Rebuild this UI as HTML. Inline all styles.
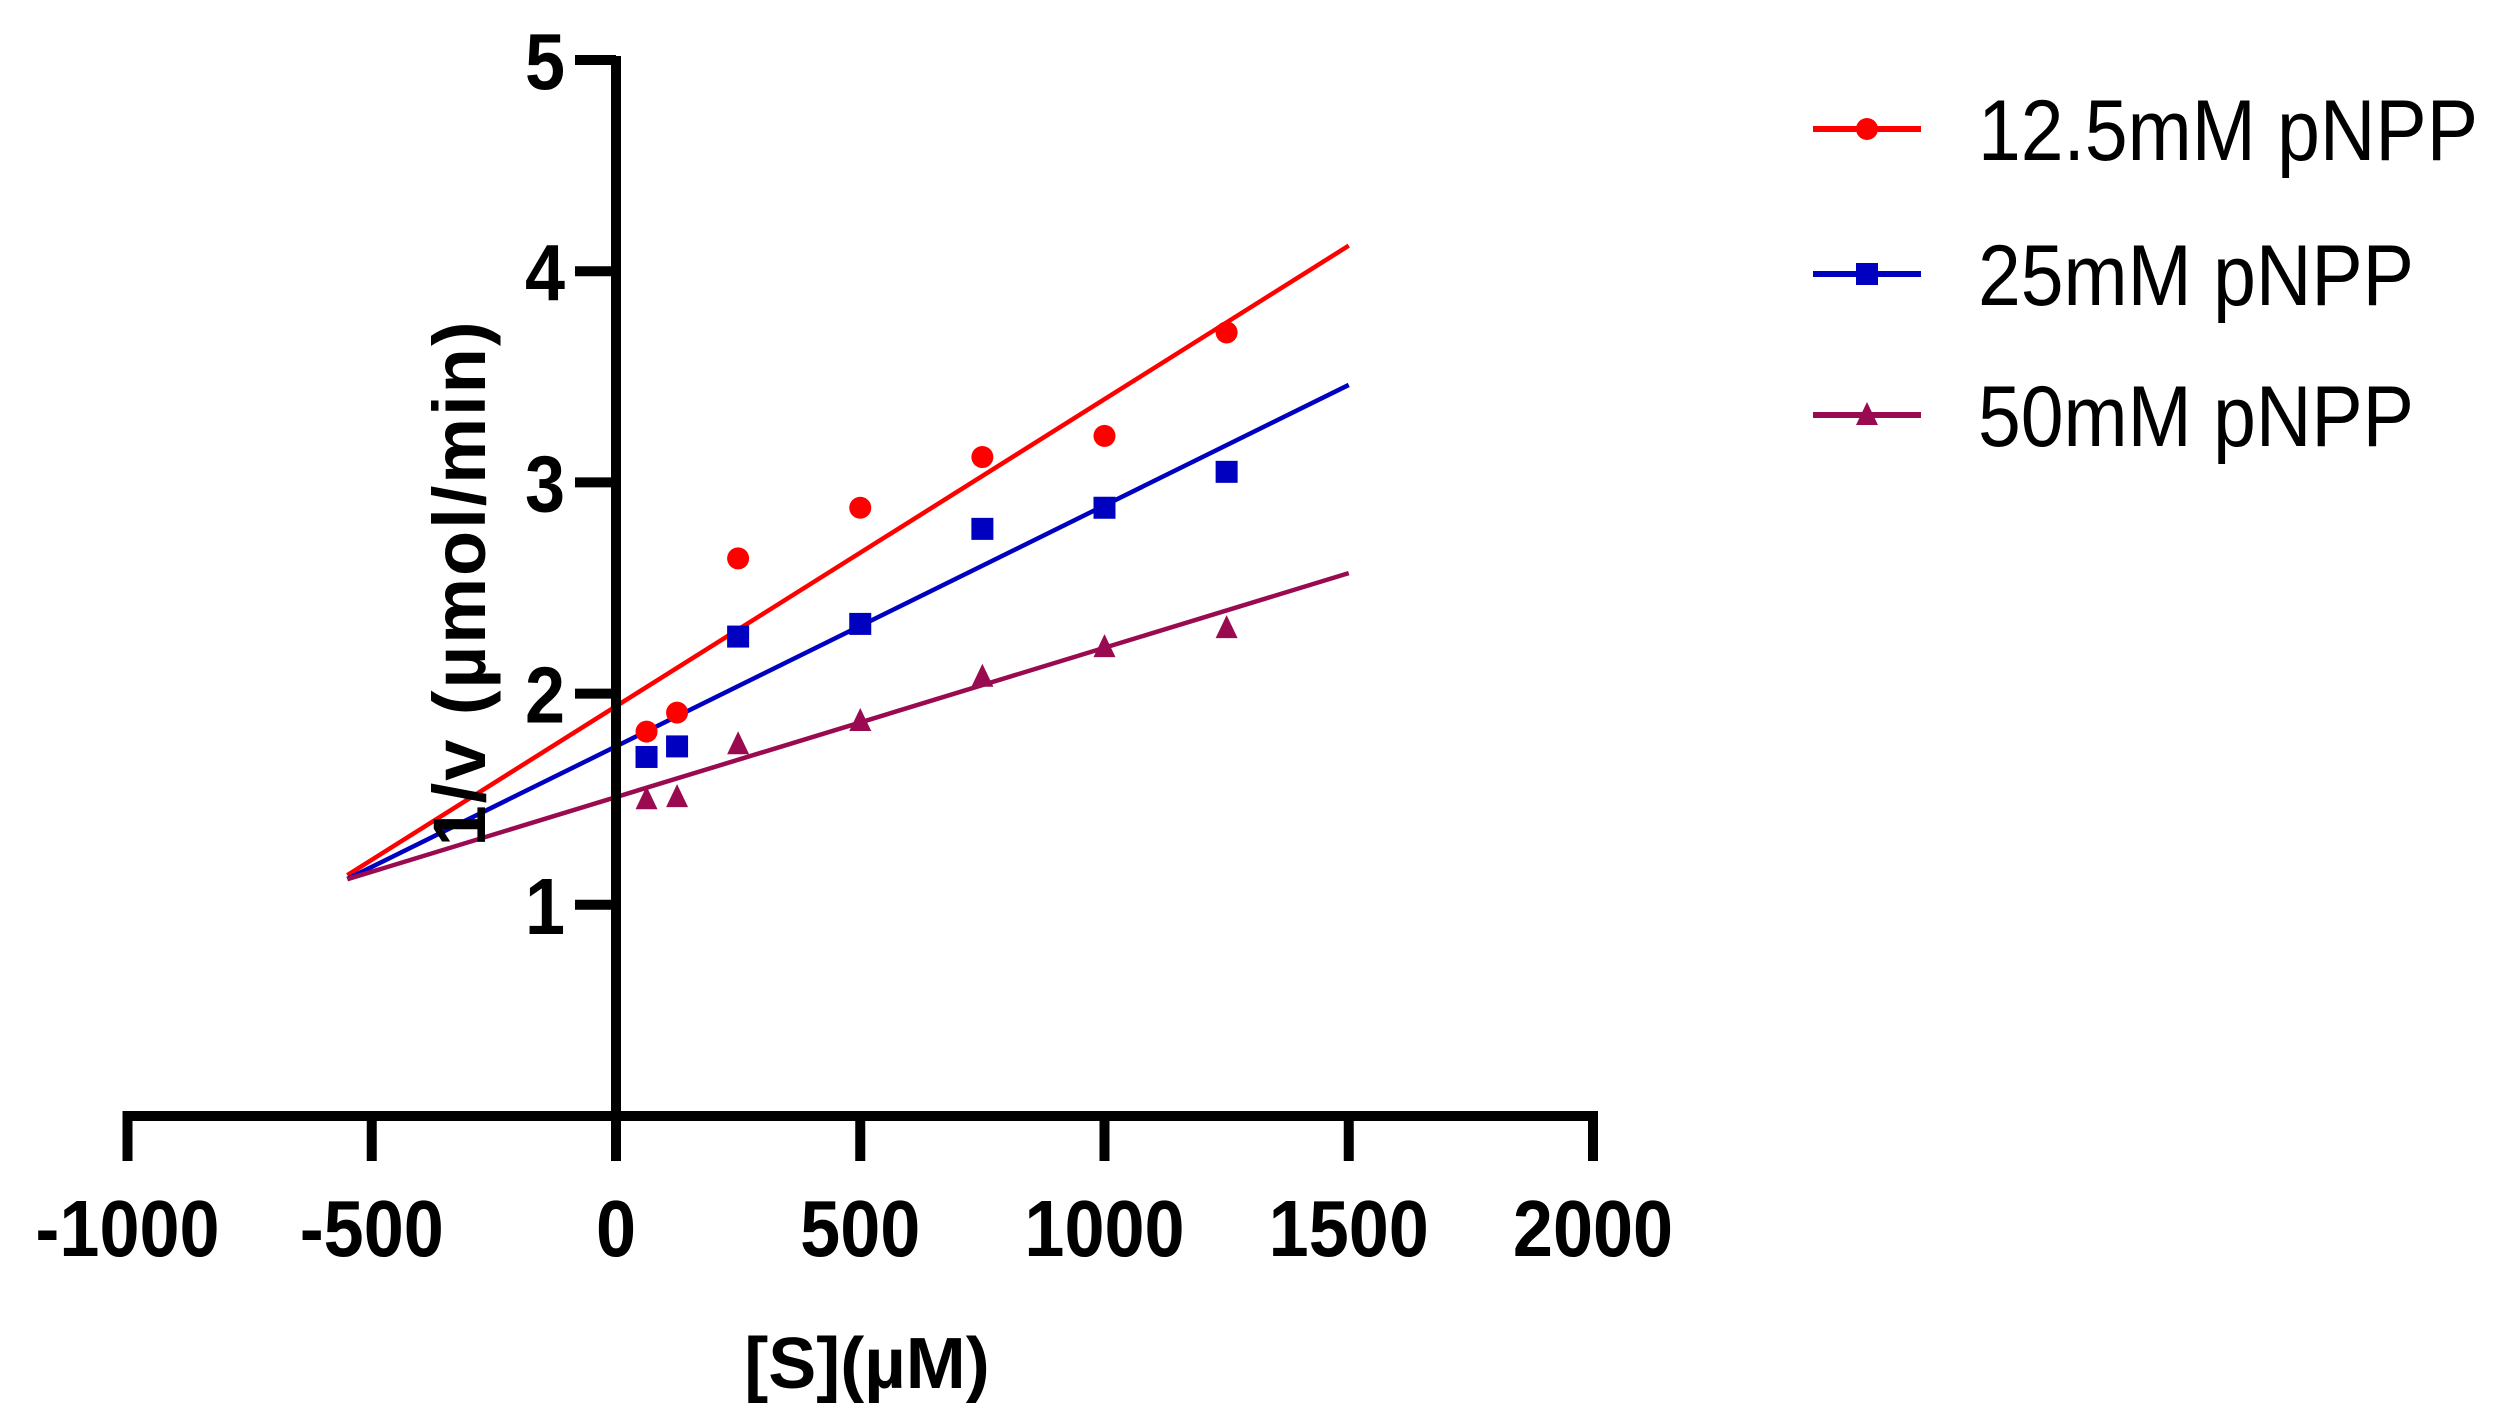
<!DOCTYPE html>
<html><head><meta charset="utf-8"><style>
html,body{margin:0;padding:0;background:#fff;}
svg{display:block;font-family:"Liberation Sans",Arial,sans-serif;}
</style></head><body>
<svg id="chart" width="2510" height="1419" viewBox="0 0 2510 1419">
<g id="plot"></g>
<g id="axes"></g>
<text id="ytitle" transform="translate(485,583) rotate(-90)" text-anchor="middle" font-size="74" font-weight="bold" letter-spacing="2">1/v (µmol/min)</text>
<text x="867" y="1388" text-anchor="middle" font-size="72" font-weight="bold">[S](µM)</text>
<g id="legend"></g>
</svg>
<script>
const xValues = [62.5, 125, 250, 500, 750, 1000, 1250];
const seriesNames = ["12.5mM pNPP", "25mM pNPP", "50mM pNPP"];
const red = [1.82, 1.91, 2.64, 2.88, 3.12, 3.22, 3.71];
const blue = [1.70, 1.75, 2.27, 2.33, 2.78, 2.88, 3.05];
const purple = [1.50, 1.51, 1.76, 1.87, 2.08, 2.22, 2.31];
const slopes = [0.001454, 0.001141, 0.000707];
const intercepts = [1.94, 1.75, 1.51];
const fitRange = [-550, 1500];
const xTicks = [-1000, -500, 0, 500, 1000, 1500, 2000];
const yTicks = [1, 2, 3, 4, 5];

const NS = "http://www.w3.org/2000/svg";
const X0 = 616, XU = 0.4885, Y0 = 1116, YU = 211.2;
const sx = v => X0 + v * XU;
const sy = v => Y0 - v * YU;
const colors = ["#ff0000", "#0000c0", "#9a0a50"];
const markers = ["circle", "square", "triangle"];
const allSeries = [red, blue, purple];

function mk(tag, attrs, parent) {
  const e = document.createElementNS(NS, tag);
  for (const k in attrs) e.setAttribute(k, attrs[k]);
  parent.appendChild(e);
  return e;
}
function marker(type, cx, cy, color, parent) {
  let e;
  if (type === "circle") e = mk("circle", {cx: cx, cy: cy, r: 11, fill: color}, parent);
  else if (type === "square") e = mk("rect", {x: cx - 11, y: cy - 11, width: 22, height: 22, fill: color}, parent);
  else e = mk("polygon", {points: `${cx},${cy - 13} ${cx - 11},${cy + 10} ${cx + 11},${cy + 10}`, fill: color}, parent);
  return e;
}
function squeeze(t, f) {
  const w = t.getComputedTextLength();
  t.setAttribute("textLength", w * f);
  t.setAttribute("lengthAdjust", "spacingAndGlyphs");
}

const axes = document.getElementById("axes");
const plot = document.getElementById("plot");
const legend = document.getElementById("legend");

const ya = mk("line", {x1: X0, y1: sy(5) - 4, x2: X0, y2: Y0 + 4, stroke: "#000", "stroke-width": 10}, axes);


const xa = mk("line", {x1: sx(-1000) - 5, y1: Y0, x2: sx(2000) + 5, y2: Y0, stroke: "#000", "stroke-width": 10}, axes);


xTicks.forEach(t => {
  const l = mk("line", {x1: sx(t), y1: Y0, x2: sx(t), y2: Y0 + 45, stroke: "#000", "stroke-width": 10}, axes);
  
  
  const tx = mk("text", {x: sx(t), y: 1256, "text-anchor": "middle", "font-size": 80, "font-weight": "bold"}, axes);
  tx.textContent = t;
  
  
  squeeze(tx, 0.9);
});
yTicks.forEach(t => {
  const l = mk("line", {x1: X0 - 41, y1: sy(t), x2: X0, y2: sy(t), stroke: "#000", "stroke-width": 10}, axes);
  
  
  const tx = mk("text", {x: 565, y: sy(t) + 29, "text-anchor": "end", "font-size": 80, "font-weight": "bold"}, axes);
  tx.textContent = t;
  
  
  squeeze(tx, 0.9);
});

slopes.forEach((m, i) => {
  const b = intercepts[i];
  const l = mk("line", {x1: sx(fitRange[0]), y1: sy(b + m * fitRange[0]), x2: sx(fitRange[1]), y2: sy(b + m * fitRange[1]), stroke: colors[i], "stroke-width": 4.5}, plot);
  
  
});
allSeries.forEach((s, i) => {
  s.forEach((v, j) => {
    const e = marker(markers[i], sx(xValues[j]), sy(v), colors[i], plot);
    
    
  });
});

const legY = [129, 274, 415];
const legW = [500, 436, 436];
seriesNames.forEach((n, i) => {
  const g = mk("g", {}, legend);
  
  
  mk("line", {x1: 1813, y1: legY[i], x2: 1921, y2: legY[i], stroke: colors[i], "stroke-width": 6}, g);
  marker(markers[i], 1867, legY[i], colors[i], g);
  const t = mk("text", {x: 1978, y: legY[i] + 31, "font-size": 86, textLength: legW[i], lengthAdjust: "spacingAndGlyphs"}, g);
  t.textContent = n;
});
</script>
</body></html>
